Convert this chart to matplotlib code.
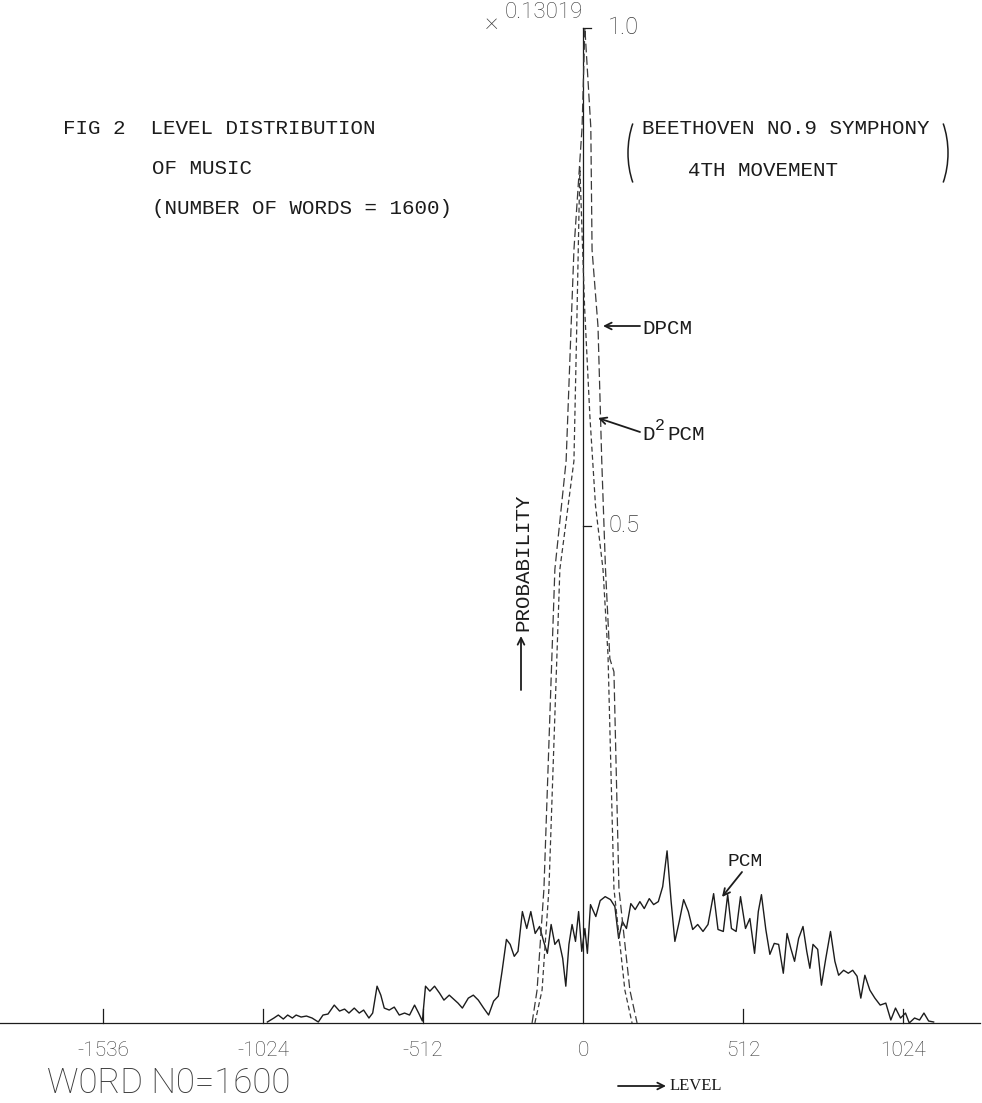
"""Level distribution of music (Beethoven No.9, 4th mvt) - PCM / DPCM / D2PCM."""
import matplotlib
matplotlib.use("Agg")
import matplotlib.pyplot as plt
from matplotlib.patches import Arc

W, H = 982, 1103
X0_PX, PX_PER_LEVEL = 583, 160 / 512      # level 0 position, pixels per level step
BASE_PX, PX_PER_UNIT = 1023, 995          # baseline row, pixels per 1.0 of probability

INK = "#1c1c1c"
PEN = "#3a3a3a"
PLOT_FONT = ["Roboto", "DejaVu Sans"]
TYPE_FONT = ["Liberation Mono", "DejaVu Sans Mono"]

# ---- data (normalised probability, full scale = 0.13019) ----
PCM_LEVEL = [-1010, -989, -975, -959, -945, -930, -918, -902, -885, -867,
             -847, -832, -816, -796, -779, -763, -749, -732, -716, -702,
             -685, -673, -659, -647, -636, -620, -604, -588, -571, -555,
             -539, -526, -514, -504, -490, -475, -459, -445, -428, -414,
             -400, -386, -367, -351, -335, -318, -302, -286, -271, -259,
             -245, -233, -220, -208, -194, -180, -167, -153, -139, -126,
             -114, -102, -90, -78, -65, -55, -45, -35, -24, -14,
             -4, 6, 14, 24, 41, 55, 71, 88, 102, 114,
             126, 139, 153, 167, 182, 196, 212, 226, 241, 255,
             269, 282, 294, 308, 322, 337, 351, 367, 384, 400,
             418, 432, 449, 463, 475, 490, 504, 520, 534, 549,
             561, 571, 585, 598, 612, 626, 641, 653, 665, 677,
             690, 704, 716, 726, 736, 751, 763, 777, 792, 806,
             818, 834, 849, 863, 877, 889, 902, 918, 934, 951,
             969, 985, 1000, 1016, 1032, 1044, 1061, 1077, 1091, 1106,
             1122]
PCM_VALUE = [0.001, 0.005, 0.008, 0.004, 0.008, 0.005, 0.008, 0.006, 0.007, 0.005,
             0.001, 0.008, 0.009, 0.018, 0.012, 0.014, 0.010, 0.015, 0.010, 0.013,
             0.005, 0.010, 0.037, 0.028, 0.015, 0.013, 0.016, 0.008, 0.010, 0.008,
             0.018, 0.010, 0.002, 0.037, 0.032, 0.037, 0.030, 0.023, 0.028, 0.024,
             0.020, 0.015, 0.025, 0.028, 0.023, 0.015, 0.008, 0.022, 0.027, 0.052,
             0.084, 0.079, 0.067, 0.072, 0.112, 0.095, 0.112, 0.090, 0.097, 0.082,
             0.070, 0.099, 0.079, 0.084, 0.065, 0.037, 0.079, 0.099, 0.082, 0.112,
             0.072, 0.095, 0.070, 0.119, 0.107, 0.123, 0.127, 0.124, 0.117, 0.085,
             0.102, 0.095, 0.120, 0.114, 0.122, 0.115, 0.125, 0.119, 0.122, 0.137,
             0.173, 0.122, 0.082, 0.102, 0.124, 0.112, 0.094, 0.099, 0.092, 0.099,
             0.130, 0.094, 0.092, 0.129, 0.095, 0.092, 0.127, 0.095, 0.105, 0.070,
             0.112, 0.129, 0.094, 0.069, 0.080, 0.079, 0.050, 0.090, 0.075, 0.062,
             0.085, 0.097, 0.072, 0.055, 0.079, 0.074, 0.038, 0.065, 0.092, 0.062,
             0.048, 0.053, 0.050, 0.053, 0.047, 0.025, 0.048, 0.033, 0.025, 0.018,
             0.020, 0.003, 0.015, 0.005, 0.010, 0.000, 0.005, 0.003, 0.010, 0.002,
             0.001]

DPCM_LEVEL = [-163, -147, -125, -90, -54, -29, -3, 6, 25, 29, 48, 60, 72, 86, 99, 115, 150, 173]
DPCM_VALUE = [0.0, 0.033, 0.135, 0.456, 0.565, 0.777, 0.90, 1.0, 0.90, 0.777,
              0.70, 0.565, 0.456, 0.366, 0.353, 0.135, 0.033, 0.0]

D2PCM_LEVEL = [-154, -131, -109, -74, -29, -20, -10, 5, 22, 40, 64, 80, 99, 134, 157]
D2PCM_VALUE = [0.0, 0.033, 0.135, 0.456, 0.565, 0.70, 0.86, 0.72, 0.61, 0.52,
               0.456, 0.37, 0.135, 0.033, 0.0]

X_TICKS = [-1536, -1024, -512, 0, 512, 1024]
X_TICK_LABELS = ["-1536", "-1024", "-512", "0", "512", "1024"]
Y_TICKS = [0.5, 1.0]
Y_TICK_LABELS = ["0.5", "1.0"]


fig = plt.figure(figsize=(W / 100, H / 100), dpi=100)
ax = fig.add_axes([0, 0, 1, 1])
ax.set_xlim(-X0_PX / PX_PER_LEVEL, (W - X0_PX) / PX_PER_LEVEL)
ax.set_ylim(-(H - BASE_PX) / PX_PER_UNIT, BASE_PX / PX_PER_UNIT)
ax.axis("off")

# axes drawn plotter style
xmin, xmax = ax.get_xlim()
ax.plot([xmin, xmax - 5], [0, 0], color=INK, lw=0.9)
ax.plot([0, 0], [0, 1.0], color=INK, lw=0.9)
for t in X_TICKS:
    if t != 0:
        ax.plot([t, t], [0, 0.014], color=INK, lw=0.9)
for v in Y_TICKS:
    ax.plot([0, 25], [v, v], color=INK, lw=0.9)

# curves
ax.plot(PCM_LEVEL, PCM_VALUE, color=INK, lw=1.0)
ax.plot(DPCM_LEVEL, DPCM_VALUE, color=PEN, lw=0.9, dashes=(7, 3))
ax.plot(D2PCM_LEVEL, D2PCM_VALUE, color=PEN, lw=0.9, dashes=(4, 2.5))

# tick labels (thin plotter lettering)
tick_y = -(1056 - BASE_PX) / PX_PER_UNIT
for t, lab in zip(X_TICKS, X_TICK_LABELS):
    ax.text(t, tick_y, lab, ha="center", va="baseline", fontsize=15,
            family=PLOT_FONT, weight="light", color=PEN)
for v, lab in zip(Y_TICKS, Y_TICK_LABELS):
    ax.text(80, v, lab, ha="left", va="center", fontsize=17,
            family=PLOT_FONT, weight="light", color=PEN)

# overlay in pixel units for the typed captions
ov = fig.add_axes([0, 0, 1, 1])
ov.set_xlim(0, W)
ov.set_ylim(H, 0)
ov.axis("off")
ov.patch.set_alpha(0)

ov.text(485, 22, "\u00d7", ha="left", va="center", fontsize=19,
        family=PLOT_FONT, weight="light", color=PEN)
ov.text(505, 13, "0.13019", ha="left", va="center", fontsize=16,
        family=PLOT_FONT, weight="light", color=PEN)

ov.text(47, 1093, "W0RD N0=1600", ha="left", va="baseline", fontsize=25,
        family=PLOT_FONT, weight="light", color=PEN)

ov.text(63, 129, "FIG 2  LEVEL DISTRIBUTION", ha="left", va="center",
        fontsize=15, family=TYPE_FONT, color=INK)
ov.text(152, 168, "OF MUSIC", ha="left", va="center",
        fontsize=15, family=TYPE_FONT, color=INK)
ov.text(152, 208, "(NUMBER OF WORDS = 1600)", ha="left", va="center",
        fontsize=15, family=TYPE_FONT, color=INK)

ov.text(642, 129, "BEETHOVEN NO.9 SYMPHONY", ha="left", va="center",
        fontsize=15, family=TYPE_FONT, color=INK)
ov.text(688, 170, "4TH MOVEMENT", ha="left", va="center",
        fontsize=15, family=TYPE_FONT, color=INK)
ov.add_patch(Arc((668, 153), 80, 124, theta1=140, theta2=220, color=INK, lw=1.1))
ov.add_patch(Arc((908, 153), 80, 124, theta1=-40, theta2=40, color=INK, lw=1.1))

ov.text(523, 562, "PROBABILITY", rotation=90, ha="center", va="center",
        fontsize=15, family=TYPE_FONT, color=INK)
arrow = dict(arrowstyle="->", lw=1.3, color=INK, mutation_scale=12,
             shrinkA=0, shrinkB=0)
ov.annotate("", xy=(521, 636), xytext=(521, 690), arrowprops=arrow)
ov.annotate("", xy=(666, 1086), xytext=(618, 1086), arrowprops=arrow)
ov.text(670, 1086, "LEVEL", ha="left", va="center", fontsize=12,
        family=["Liberation Serif", "DejaVu Serif"], color=INK)

ov.annotate("", xy=(603, 326), xytext=(640, 326), arrowprops=arrow)
ov.text(642, 328, "DPCM", ha="left", va="center", fontsize=15,
        family=TYPE_FONT, color=INK)
ov.annotate("", xy=(598, 418), xytext=(640, 432), arrowprops=arrow)
ov.text(642, 434, "D", ha="left", va="center", fontsize=15,
        family=TYPE_FONT, color=INK)
ov.text(655, 426, "2", ha="left", va="center", fontsize=12,
        family=TYPE_FONT, color=INK)
ov.text(667, 434, "PCM", ha="left", va="center", fontsize=15,
        family=TYPE_FONT, color=INK)
ov.text(728, 861, "PCM", ha="left", va="center", fontsize=14,
        family=TYPE_FONT, color=INK)
ov.annotate("", xy=(722, 897), xytext=(742, 872), arrowprops=arrow)

fig.savefig("out.png", dpi=100)
